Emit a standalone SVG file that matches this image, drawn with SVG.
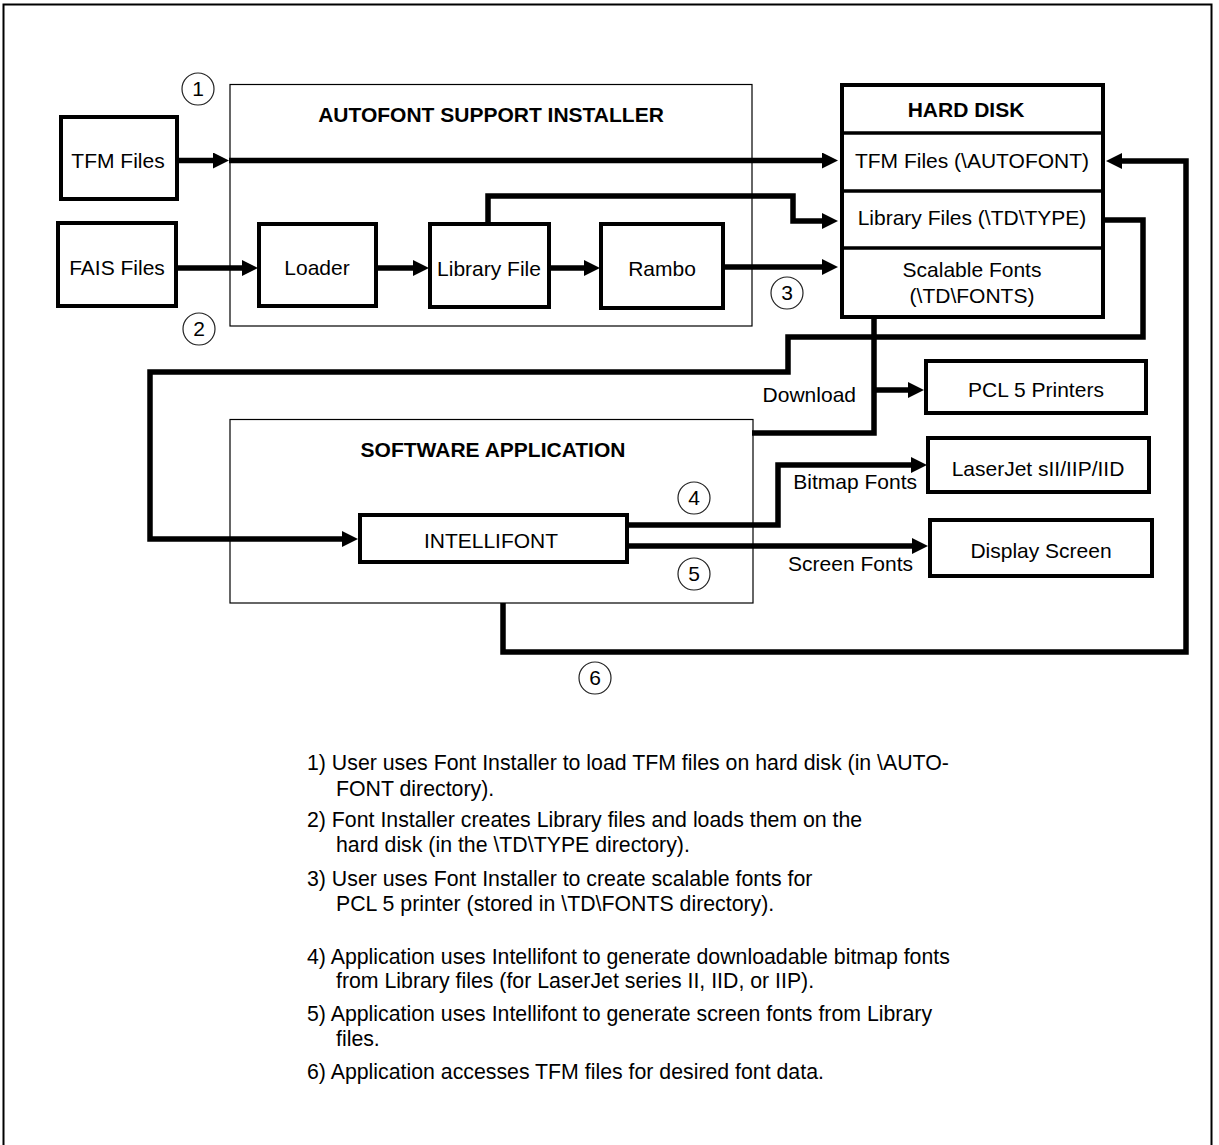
<svg xmlns="http://www.w3.org/2000/svg" width="1219" height="1145" viewBox="0 0 1219 1145">
  <style>
    text { font-family: "Liberation Sans", Arial, Helvetica, sans-serif; font-size: 21px; fill: #000; }
    .title { font-weight: bold; text-anchor: middle; }
    .c { text-anchor: middle; }
    .e { text-anchor: end; }
    .note { font-size: 21.3px; }
    .box { fill: #fff; stroke: #000; stroke-width: 4; }
    .frame { fill: none; stroke: #000; stroke-width: 1.2; }
    .num { fill: #fff; stroke: #222; stroke-width: 1.2; }
    .wire { fill: none; stroke: #000; stroke-width: 5.5; stroke-linejoin: miter; stroke-linecap: butt; }
    .arrow { marker-end: url(#head); }
  </style>
  <defs>
    <marker id="head" markerUnits="userSpaceOnUse" markerWidth="16" markerHeight="16" refX="4" refY="8" orient="auto">
      <path d="M0,0 L16,8 L0,16 z" fill="#000"/>
    </marker>
  </defs>

  <!-- page frame -->
  <rect x="3.5" y="4.5" width="1208" height="1160" fill="#fff" stroke="#000" stroke-width="2"/>

  <!-- installer and application frames -->
  <g id="autofont-installer">
    <rect class="frame" x="230" y="84.5" width="522" height="241.5"/>
    <text class="title" x="491" y="122">AUTOFONT SUPPORT INSTALLER</text>
  </g>
  <g id="software-application">
    <rect class="frame" x="230" y="419.5" width="523" height="183.5"/>
    <text class="title" x="493" y="457">SOFTWARE APPLICATION</text>
  </g>

  <!-- connectors -->
  <g id="connectors">
    <path class="wire arrow" d="M178,160.5 H217"/>
    <path class="wire arrow" d="M229,160.5 H826"/>
    <path class="wire arrow" d="M176,268 H246"/>
    <path class="wire arrow" d="M376,268 H417"/>
    <path class="wire arrow" d="M549,268 H588"/>
    <path class="wire arrow" d="M488,223 V196 H793 V221 H826"/>
    <path class="wire arrow" d="M723,267 H826"/>
    <path class="wire arrow" d="M1104,220 H1143 V337 H788 V372 H150 V539 H346"/>
    <path class="wire" d="M874,318 V433 H752"/>
    <path class="wire arrow" d="M874,390 H912"/>
    <path class="wire arrow" d="M628,525 H778 V465 H915"/>
    <path class="wire arrow" d="M628,546 H916"/>
    <path class="wire arrow" d="M503,603 V652 H1186 V161 H1118"/>
  </g>

  <!-- source nodes -->
  <g id="tfm-files">
    <rect class="box" x="61" y="117" width="116" height="82"/>
    <text class="c" x="118" y="168">TFM Files</text>
  </g>
  <g id="fais-files">
    <rect class="box" x="58" y="223" width="118" height="83"/>
    <text class="c" x="117" y="275">FAIS Files</text>
  </g>
  <g id="loader">
    <rect class="box" x="259" y="224" width="117" height="82"/>
    <text class="c" x="317" y="275">Loader</text>
  </g>
  <g id="library-file">
    <rect class="box" x="430" y="224" width="119" height="83"/>
    <text class="c" x="489" y="276">Library File</text>
  </g>
  <g id="rambo">
    <rect class="box" x="601" y="224" width="122" height="84"/>
    <text class="c" x="662" y="276">Rambo</text>
  </g>

  <!-- hard disk with its three stores -->
  <g id="hard-disk">
    <rect class="box" x="842" y="85" width="261" height="232"/>
    <line x1="842" y1="133" x2="1103" y2="133" stroke="#000" stroke-width="3.5"/>
    <line x1="842" y1="191" x2="1103" y2="191" stroke="#000" stroke-width="3.5"/>
    <line x1="842" y1="248" x2="1103" y2="248" stroke="#000" stroke-width="3.5"/>
    <text class="title" x="966" y="117">HARD DISK</text>
    <text class="c" x="972" y="168">TFM Files (\AUTOFONT)</text>
    <text class="c" x="972" y="225">Library Files (\TD\TYPE)</text>
    <text class="c" x="972" y="277">Scalable Fonts</text>
    <text class="c" x="972" y="303">(\TD\FONTS)</text>
  </g>

  <!-- outputs -->
  <g id="pcl5-printers">
    <rect class="box" x="926" y="361" width="220" height="52"/>
    <text class="c" x="1036" y="397">PCL 5 Printers</text>
  </g>
  <g id="laserjet">
    <rect class="box" x="928" y="438" width="221" height="54"/>
    <text class="c" x="1038" y="476">LaserJet sII/IIP/IID</text>
  </g>
  <g id="display-screen">
    <rect class="box" x="930" y="520" width="222" height="56"/>
    <text class="c" x="1041" y="558">Display Screen</text>
  </g>
  <g id="intellifont">
    <rect class="box" x="360" y="515" width="267" height="47"/>
    <text class="c" x="491" y="548">INTELLIFONT</text>
  </g>

  <!-- connector labels -->
  <g id="labels">
    <text class="e" x="856" y="402">Download</text>
    <text class="e" x="917" y="489">Bitmap Fonts</text>
    <text class="e" x="913" y="571">Screen Fonts</text>
  </g>

  <!-- step numbers -->
  <g id="step-1"><circle class="num" cx="198" cy="89" r="16"/><text class="c" x="198" y="96">1</text></g>
  <g id="step-2"><circle class="num" cx="199" cy="329" r="16"/><text class="c" x="199" y="336">2</text></g>
  <g id="step-3"><circle class="num" cx="787" cy="293" r="16"/><text class="c" x="787" y="300">3</text></g>
  <g id="step-4"><circle class="num" cx="694" cy="498" r="16"/><text class="c" x="694" y="505">4</text></g>
  <g id="step-5"><circle class="num" cx="694" cy="574" r="16"/><text class="c" x="694" y="581">5</text></g>
  <g id="step-6"><circle class="num" cx="595" cy="678" r="16"/><text class="c" x="595" y="685">6</text></g>

  <!-- legend -->
  <g id="legend" class="note">
    <text class="note" x="307" y="770">1) User uses Font Installer to load TFM files on hard disk (in \AUTO-</text>
    <text class="note" x="336" y="796">FONT directory).</text>
    <text class="note" x="307" y="827">2) Font Installer creates Library files and loads them on the</text>
    <text class="note" x="336" y="852">hard disk (in the \TD\TYPE directory).</text>
    <text class="note" x="307" y="886">3) User uses Font Installer to create scalable fonts for</text>
    <text class="note" x="336" y="911">PCL 5 printer (stored in \TD\FONTS directory).</text>
    <text class="note" x="307" y="964">4) Application uses Intellifont to generate downloadable bitmap fonts</text>
    <text class="note" x="336" y="988">from Library files (for LaserJet series II, IID, or IIP).</text>
    <text class="note" x="307" y="1021">5) Application uses Intellifont to generate screen fonts from Library</text>
    <text class="note" x="336" y="1046">files.</text>
    <text class="note" x="307" y="1079">6) Application accesses TFM files for desired font data.</text>
  </g>
</svg>
